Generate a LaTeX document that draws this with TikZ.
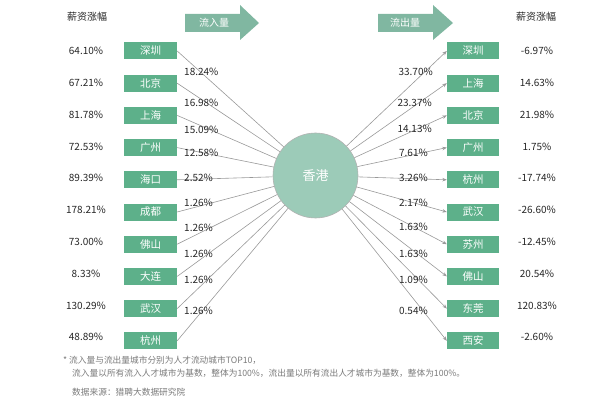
\documentclass[tikz,border=0pt]{standalone}
\usepackage{fontspec}
\setmainfont{Noto Sans CJK SC}
\usepackage{xcolor}
\usetikzlibrary{arrows.meta,positioning}
\definecolor{boxgreen}{HTML}{5DB08A}
\definecolor{bannergreen}{HTML}{80B7A1}
\definecolor{hubgreen}{HTML}{9CCBB8}
\definecolor{linegray}{HTML}{999999}
\definecolor{notegray}{HTML}{7A7A7A}

\begin{document}
\begin{tikzpicture}[
x=1pt,y=-1pt,
node distance=14.8pt,
citybox/.style={fill=boxgreen,text=white,minimum width=53pt,minimum height=17pt,inner sep=0pt,font=\fontsize{10.5}{12}\selectfont},
pct/.style={text=black!85,inner sep=0pt,font=\fontsize{10}{12}\selectfont},
share/.style={pct},
hub/.style={circle,fill=hubgreen,draw=gray!60,line width=0.6pt,minimum size=85pt,inner sep=0pt,text=white,font=\fontsize{13}{15}\selectfont},
link/.style={draw=linegray,line width=0.6pt},
flow/.style={link,-{Stealth[length=4.5pt,width=3.5pt]}},
note/.style={text=notegray,inner sep=0pt,anchor=west,font=\fontsize{8.7}{10}\selectfont}
]
\useasboundingbox (0,0) rectangle (600,401);
% banners
\fill[bannergreen] (185,14) -- (240,14) -- (240,5) -- (259,23) -- (240,40) -- (240,32) -- (185,32) -- cycle;
\fill[bannergreen] (378,14) -- (433,14) -- (433,5) -- (453,23) -- (433,40) -- (433,32) -- (378,32) -- cycle;
\node[text=white,font=\fontsize{10}{12}\selectfont] (inlabel) at (214,23) {流入量};
\node[text=white,font=\fontsize{10}{12}\selectfont] (outlabel) at (405,23) {流出量};
\node[pct] (lhead) at (87,17) {薪资涨幅};
\node[pct] (rhead) at (536,17) {薪资涨幅};
% hub
\node[hub] (hk) at (315.5,175.5) {香港};
% inflow cities
\node[citybox] (in1) at (150.5,51) {深圳};
\node[citybox,below=of in1] (in2) {北京};
\node[citybox,below=of in2] (in3) {上海};
\node[citybox,below=of in3] (in4) {广州};
\node[citybox,below=of in4] (in5) {海口};
\node[citybox,below=of in5] (in6) {成都};
\node[citybox,below=of in6] (in7) {佛山};
\node[citybox,below=of in7] (in8) {大连};
\node[citybox,below=of in8] (in9) {武汉};
\node[citybox,below=of in9] (in10) {杭州};
% outflow cities
\node[citybox,minimum width=52pt] (out1) at (473,51) {深圳};
\node[citybox,minimum width=52pt,below=of out1] (out2) {上海};
\node[citybox,minimum width=52pt,below=of out2] (out3) {北京};
\node[citybox,minimum width=52pt,below=of out3] (out4) {广州};
\node[citybox,minimum width=52pt,below=of out4] (out5) {杭州};
\node[citybox,minimum width=52pt,below=of out5] (out6) {武汉};
\node[citybox,minimum width=52pt,below=of out6] (out7) {苏州};
\node[citybox,minimum width=52pt,below=of out7] (out8) {佛山};
\node[citybox,minimum width=52pt,below=of out8] (out9) {东莞};
\node[citybox,minimum width=52pt,below=of out9] (out10) {西安};
% salary growth
\node[pct] at (86,51) {64.10\%};
\node[pct] at (86,82.8) {67.21\%};
\node[pct] at (86,114.6) {81.78\%};
\node[pct] at (86,146.4) {72.53\%};
\node[pct] at (86,178.2) {89.39\%};
\node[pct] at (86,210) {178.21\%};
\node[pct] at (86,241.8) {73.00\%};
\node[pct] at (86,273.6) {8.33\%};
\node[pct] at (86,305.4) {130.29\%};
\node[pct] at (86,337.2) {48.89\%};
\node[pct] at (537,51) {-6.97\%};
\node[pct] at (537,82.8) {14.63\%};
\node[pct] at (537,114.6) {21.98\%};
\node[pct] at (537,146.4) {1.75\%};
\node[pct] at (537,178.2) {-17.74\%};
\node[pct] at (537,210) {-26.60\%};
\node[pct] at (537,241.8) {-12.45\%};
\node[pct] at (537,273.6) {20.54\%};
\node[pct] at (537,305.4) {120.83\%};
\node[pct] at (537,337.2) {-2.60\%};
% connectors
\draw[link] (in1.east) -- (hk);
\draw[link] (in2.east) -- (hk);
\draw[link] (in3.east) -- (hk);
\draw[link] (in4.east) -- (hk);
\draw[link] (in5.east) -- (hk);
\draw[link] (in6.east) -- (hk);
\draw[link] (in7.east) -- (hk);
\draw[link] (in8.east) -- (hk);
\draw[link] (in9.east) -- (hk);
\draw[link] (in10.east) -- (hk);
\draw[flow] (hk) -- (out1.west);
\draw[flow] (hk) -- (out2.west);
\draw[flow] (hk) -- (out3.west);
\draw[flow] (hk) -- (out4.west);
\draw[flow] (hk) -- (out5.west);
\draw[flow] (hk) -- (out6.west);
\draw[flow] (hk) -- (out7.west);
\draw[flow] (hk) -- (out8.west);
\draw[flow] (hk) -- (out9.west);
\draw[flow] (hk) -- (out10.west);
% shares
\node[share,anchor=west] at (184,72) {18.24\%};
\node[share,anchor=west] at (184,103) {16.98\%};
\node[share,anchor=west] at (184,130) {15.09\%};
\node[share,anchor=west] at (184,153) {12.58\%};
\node[share,anchor=west] at (184,178) {2.52\%};
\node[share,anchor=west] at (184,203) {1.26\%};
\node[share,anchor=west] at (184,228) {1.26\%};
\node[share,anchor=west] at (184,254) {1.26\%};
\node[share,anchor=west] at (184,280) {1.26\%};
\node[share,anchor=west] at (184,311) {1.26\%};
\node[share,anchor=east] at (433,72) {33.70\%};
\node[share,anchor=east] at (432,103) {23.37\%};
\node[share,anchor=east] at (432,129) {14.13\%};
\node[share,anchor=east] at (428,153) {7.61\%};
\node[share,anchor=east] at (428,178) {3.26\%};
\node[share,anchor=east] at (428,203) {2.17\%};
\node[share,anchor=east] at (428,227) {1.63\%};
\node[share,anchor=east] at (428,254) {1.63\%};
\node[share,anchor=east] at (428,280) {1.09\%};
\node[share,anchor=east] at (428,311) {0.54\%};
% notes
\node[note] at (63,360) {* 流入量与流出量城市分别为人才流动城市TOP10，};
\node[note] at (72,373) {流入量以所有流入人才城市为基数，整体为100\%，流出量以所有流出人才城市为基数，整体为100\%。};
\node[note] at (72,392) {数据来源：猎聘大数据研究院};
\end{tikzpicture}
\end{document}
